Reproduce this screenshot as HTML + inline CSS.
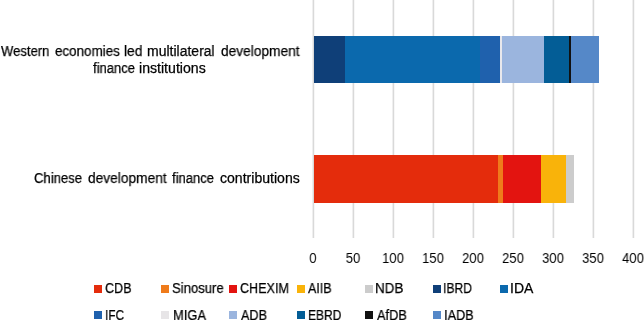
<!DOCTYPE html>
<html><head><meta charset="utf-8">
<style>
html,body{margin:0;padding:0;background:#fff;}
body{width:644px;height:320px;position:relative;overflow:hidden;font-family:"Liberation Sans",sans-serif;font-size:14px;color:#000;}
.t,.ax,.lt{will-change:transform;-webkit-text-stroke:0.25px #000;}
.ax{-webkit-text-stroke:0;}
.g{position:absolute;top:0;width:1px;height:238px;background:#d9d9d9;box-shadow:-1px 0 0 #efefef,1px 0 0 #f7f7f7;}
.s{position:absolute;}
.t{position:absolute;white-space:pre;line-height:17px;transform-origin:0 0;}
.ax{position:absolute;top:249.7px;width:40px;text-align:center;white-space:pre;transform:scaleX(0.93);}
.lg{position:absolute;width:8px;height:8px;}
.lt{position:absolute;white-space:pre;transform-origin:0 0;}
</style></head><body>
<!-- gridlines -->
<div class="g" style="left:313px"></div>
<div class="g" style="left:353px"></div>
<div class="g" style="left:393px"></div>
<div class="g" style="left:433px"></div>
<div class="g" style="left:473px"></div>
<div class="g" style="left:513px"></div>
<div class="g" style="left:553px"></div>
<div class="g" style="left:593px"></div>
<div class="g" style="left:633px"></div>

<!-- bar 1 -->
<div class="s" style="top:35.5px;height:47.5px;left:313.5px;width:31.8px;background:#0f3f78"></div>
<div class="s" style="top:35.5px;height:47.5px;left:345.3px;width:135px;background:#0b69ad"></div>
<div class="s" style="top:35.5px;height:47.5px;left:480.3px;width:19.7px;background:#1f61ad"></div>
<div class="s" style="top:35.5px;height:47.5px;left:500px;width:2.2px;background:#e9e8ec"></div>
<div class="s" style="top:35.5px;height:47.5px;left:502.2px;width:41.5px;background:#9bb5de"></div>
<div class="s" style="top:35.5px;height:47.5px;left:543.7px;width:25.5px;background:#035d96"></div>
<div class="s" style="top:35.5px;height:47.5px;left:569.2px;width:1.8px;background:#111"></div>
<div class="s" style="top:35.5px;height:47.5px;left:571px;width:28px;background:#5588c8"></div>

<!-- bar 2 -->
<div class="s" style="top:155px;height:48px;left:313.5px;width:184.5px;background:#e42c0c"></div>
<div class="s" style="top:155px;height:48px;left:498px;width:4.9px;background:#ef7b1b"></div>
<div class="s" style="top:155px;height:48px;left:502.9px;width:38.3px;background:#e31410"></div>
<div class="s" style="top:155px;height:48px;left:541.2px;width:24.7px;background:#f9b30a"></div>
<div class="s" style="top:155px;height:48px;left:565.9px;width:7.9px;background:#cccccc"></div>

<!-- category labels -->
<div class="t" style="left:1.00px;top:42.5px;transform:scaleX(0.933)">Western</div>
<div class="t" style="left:55.10px;top:42.5px;transform:scaleX(0.957)">economies</div>
<div class="t" style="left:124.02px;top:42.5px;transform:scaleX(0.982)">led</div>
<div class="t" style="left:147.40px;top:42.5px;transform:scaleX(0.998)">multilateral</div>
<div class="t" style="left:220.60px;top:42.5px;transform:scaleX(0.980)">development</div>
<div class="t" style="left:92.80px;top:59.6px;transform:scaleX(0.931)">finance</div>
<div class="t" style="left:139.29px;top:59.6px;transform:scaleX(1.009)">institutions</div>
<div class="t" style="left:34.46px;top:170.3px;transform:scaleX(0.936)">Chinese</div>
<div class="t" style="left:87.60px;top:170.3px;transform:scaleX(0.981)">development</div>
<div class="t" style="left:172.10px;top:170.3px;transform:scaleX(0.931)">finance</div>
<div class="t" style="left:219.60px;top:170.3px;transform:scaleX(1.005)">contributions</div>

<!-- axis labels -->
<div class="ax" style="left:292.9px">0</div>
<div class="ax" style="left:332.9px">50</div>
<div class="ax" style="left:372.9px">100</div>
<div class="ax" style="left:412.9px">150</div>
<div class="ax" style="left:452.9px">200</div>
<div class="ax" style="left:492.9px">250</div>
<div class="ax" style="left:532.9px">300</div>
<div class="ax" style="left:572.9px">350</div>
<div class="ax" style="left:612.9px">400</div>

<!-- legend row 1 -->
<div class="lg" style="left:93.5px;top:284.8px;background:#e42c0c"></div><div class="lt" style="left:104.50px;top:280px;transform:scaleX(0.900)">CDB</div>
<div class="lg" style="left:161.3px;top:284.8px;background:#ef7b1b"></div><div class="lt" style="left:172.36px;top:280px;transform:scaleX(0.935)">Sinosure</div>
<div class="lg" style="left:229.1px;top:284.8px;background:#e31410"></div><div class="lt" style="left:240.35px;top:280px;transform:scaleX(0.898)">CHEXIM</div>
<div class="lg" style="left:297.1px;top:284.8px;background:#f9b30a"></div><div class="lt" style="left:308.30px;top:280px;transform:scaleX(0.896)">AIIB</div>
<div class="lg" style="left:365.1px;top:284.8px;background:#cccccc"></div><div class="lt" style="left:375.34px;top:280px;transform:scaleX(0.961)">NDB</div>
<div class="lg" style="left:432.6px;top:284.8px;background:#0f3f78"></div><div class="lt" style="left:443.33px;top:280px;transform:scaleX(0.866)">IBRD</div>
<div class="lg" style="left:500.3px;top:284.8px;background:#0b69ad"></div><div class="lt" style="left:510.23px;top:280px;transform:scaleX(0.982)">IDA</div>
<!-- legend row 2 -->
<div class="lg" style="left:93.8px;top:311.2px;background:#1f61ad"></div><div class="lt" style="left:104.66px;top:306.5px;transform:scaleX(0.843)">IFC</div>
<div class="lg" style="left:161.3px;top:311.2px;background:#e7e5e7"></div><div class="lt" style="left:172.68px;top:306.5px;transform:scaleX(0.923)">MIGA</div>
<div class="lg" style="left:229.1px;top:311.2px;background:#9bb5de"></div><div class="lt" style="left:240.55px;top:306.5px;transform:scaleX(0.904)">ADB</div>
<div class="lg" style="left:297.1px;top:311.2px;background:#035d96"></div><div class="lt" style="left:308.14px;top:306.5px;transform:scaleX(0.857)">EBRD</div>
<div class="lg" style="left:365.1px;top:311.2px;background:#111"></div><div class="lt" style="left:376.60px;top:306.5px;transform:scaleX(0.916)">AfDB</div>
<div class="lg" style="left:432.6px;top:311.2px;background:#5588c8"></div><div class="lt" style="left:443.89px;top:306.5px;transform:scaleX(0.910)">IADB</div>
</body></html>
